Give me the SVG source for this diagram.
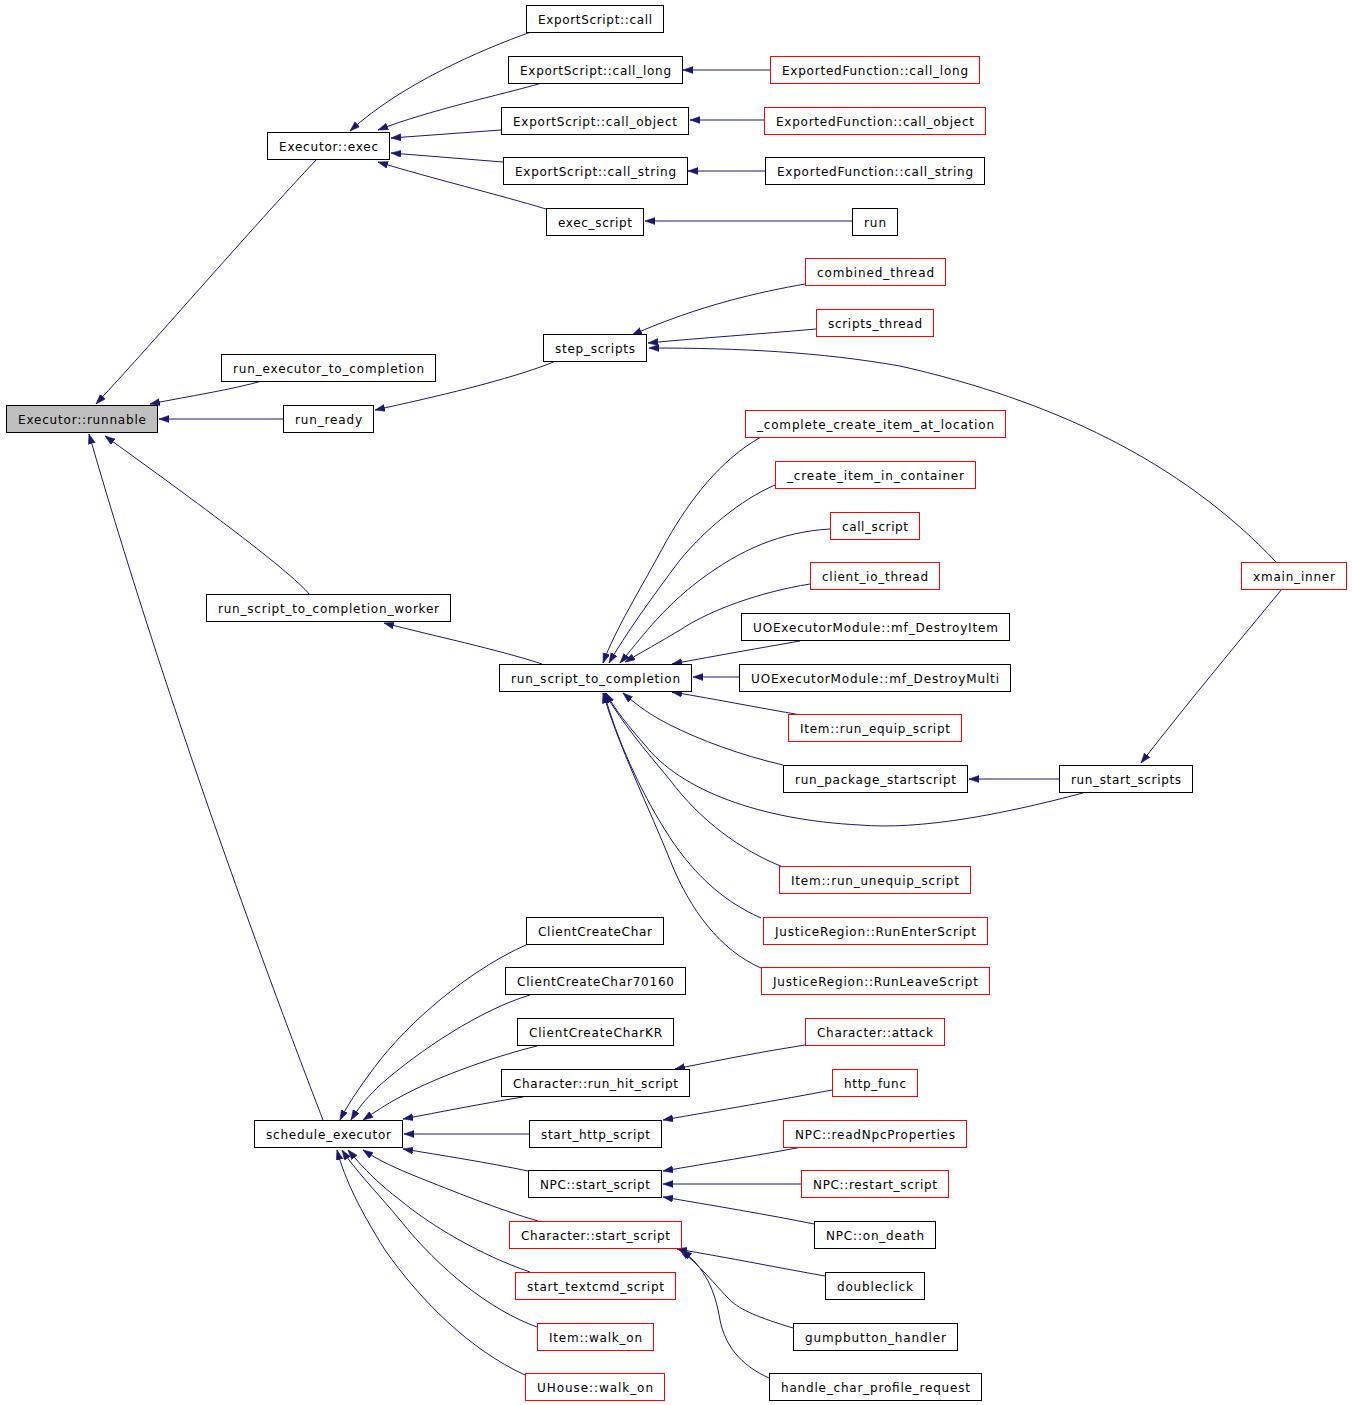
<svg xmlns="http://www.w3.org/2000/svg" width="1352" height="1405" viewBox="0 0 1352 1405">
<defs>
<marker id="ah" markerUnits="userSpaceOnUse" markerWidth="11" markerHeight="8" refX="10" refY="3.5" orient="auto">
<path d="M0,0 L10,3.5 L0,7 z" fill="#191970" stroke="#191970" stroke-width="0.5"/>
</marker>
</defs>
<style>
.n rect{fill:#fff;stroke:#000;stroke-width:1}
.n.r rect{stroke:#ff0000}
.n.g rect{fill:#bfbfbf}
.n text{font-family:"DejaVu Sans",sans-serif;font-size:12px;fill:#000}
#edges path{fill:none;stroke:#191970;stroke-width:1;marker-end:url(#ah)}
</style>
<rect width="1352" height="1405" fill="#fff"/>
<g id="edges">
<path d="M531,32 C480,50 400,85 350,131"/>
<path d="M542,83 C500,95 430,110 378,130"/>
<path d="M501,130 L391,138"/>
<path d="M503,162 L391,153"/>
<path d="M546,209 C500,195 430,178 378,162"/>
<path d="M770,70 L683,70"/>
<path d="M764,120 L690,120"/>
<path d="M765,171 L688,171"/>
<path d="M852,221 L645,221"/>
<path d="M317,159 C250,230 160,335 96,404"/>
<path d="M262,381 C230,390 190,396 150,404"/>
<path d="M283,419 L159,419"/>
<path d="M556,361 C510,380 430,398 375,410"/>
<path d="M805,284 C760,292 700,305 632,335"/>
<path d="M816,329 C760,334 700,338 648,343"/>
<path d="M1277,563 C1180,460 1050,400 900,366 C820,352 740,348 649,348"/>
<path d="M310,595 C290,570 180,490 105,436"/>
<path d="M323,1120 C300,1060 180,750 89,434"/>
<path d="M542,664 C500,650 430,635 384,623"/>
<path d="M761,437 C720,460 690,500 667,540 C640,590 615,630 603,663"/>
<path d="M775,485 C740,500 705,530 680,560 C650,600 625,635 609,663"/>
<path d="M830,529 C780,532 740,550 700,580 C660,610 640,640 620,663"/>
<path d="M810,584 C760,592 710,610 680,630 C660,642 642,652 625,662"/>
<path d="M800,641 C760,648 720,655 672,664"/>
<path d="M739,677 L693,677"/>
<path d="M801,715 C760,708 720,700 672,692"/>
<path d="M783,765 C740,755 700,740 670,725 C652,716 638,706 623,693"/>
<path d="M1083,793 C1000,815 920,830 860,825 C760,820 680,790 645,745 C630,728 615,710 606,693"/>
<path d="M783,867 C740,850 700,820 670,780 C645,750 620,720 605,693"/>
<path d="M761,918 C720,900 690,870 665,830 C640,790 617,740 604,693"/>
<path d="M761,968 C720,950 690,910 670,860 C650,810 618,745 603,693"/>
<path d="M1059,779 L969,779"/>
<path d="M1282,589 C1240,640 1190,700 1141,763"/>
<path d="M526,945 C480,965 420,1010 380,1060 C365,1080 350,1100 340,1120"/>
<path d="M530,995 C480,1010 420,1050 380,1085 C370,1095 360,1105 351,1120"/>
<path d="M537,1046 C500,1055 440,1075 400,1097 C385,1105 375,1112 363,1120"/>
<path d="M523,1097 C480,1104 440,1112 403,1119"/>
<path d="M529,1134 L404,1134"/>
<path d="M528,1171 C490,1163 440,1155 403,1149"/>
<path d="M538,1221 C500,1210 450,1190 420,1178 C395,1168 378,1160 363,1150"/>
<path d="M530,1272 C480,1255 430,1225 400,1200 C380,1185 365,1170 348,1150"/>
<path d="M537,1327 C490,1310 440,1270 400,1220 C375,1190 355,1170 342,1150"/>
<path d="M525,1375 C470,1350 420,1300 385,1250 C360,1210 345,1180 337,1150"/>
<path d="M805,1045 C760,1052 720,1060 675,1069"/>
<path d="M832,1090 C780,1100 720,1110 663,1120"/>
<path d="M802,1147 C760,1155 710,1163 663,1171"/>
<path d="M801,1184 L663,1184"/>
<path d="M814,1224 C770,1215 710,1205 663,1197"/>
<path d="M825,1276 C780,1268 730,1258 677,1249"/>
<path d="M793,1328 C760,1318 740,1310 730,1300 C715,1285 700,1265 680,1250"/>
<path d="M769,1378 C740,1365 725,1345 720,1320 C715,1290 705,1268 682,1250"/>
</g>
<g id="n1" class="n g"><rect x="6.5" y="405.5" width="151" height="27"/><text x="18" y="423.5" textLength="128" lengthAdjust="spacing">Executor::runnable</text></g>
<g id="n2" class="n"><rect x="267.5" y="132.5" width="122" height="27"/><text x="279" y="150.5" textLength="99" lengthAdjust="spacing">Executor::exec</text></g>
<g id="n3" class="n"><rect x="526.5" y="5.5" width="137" height="27"/><text x="538" y="23.5" textLength="114" lengthAdjust="spacing">ExportScript::call</text></g>
<g id="n4" class="n"><rect x="508.5" y="56.5" width="174" height="27"/><text x="520" y="74.5" textLength="151" lengthAdjust="spacing">ExportScript::call_long</text></g>
<g id="n5" class="n"><rect x="501.5" y="107.5" width="187" height="27"/><text x="513" y="125.5" textLength="164" lengthAdjust="spacing">ExportScript::call_object</text></g>
<g id="n6" class="n"><rect x="503.5" y="157.5" width="184" height="27"/><text x="515" y="175.5" textLength="161" lengthAdjust="spacing">ExportScript::call_string</text></g>
<g id="n7" class="n"><rect x="546.5" y="208.5" width="97" height="27"/><text x="558" y="226.5" textLength="74" lengthAdjust="spacing">exec_script</text></g>
<g id="n8" class="n r"><rect x="770.5" y="56.5" width="209" height="27"/><text x="782" y="74.5" textLength="186" lengthAdjust="spacing">ExportedFunction::call_long</text></g>
<g id="n9" class="n r"><rect x="764.5" y="107.5" width="221" height="27"/><text x="776" y="125.5" textLength="198" lengthAdjust="spacing">ExportedFunction::call_object</text></g>
<g id="n10" class="n"><rect x="765.5" y="157.5" width="219" height="27"/><text x="777" y="175.5" textLength="196" lengthAdjust="spacing">ExportedFunction::call_string</text></g>
<g id="n11" class="n"><rect x="852.5" y="208.5" width="45" height="27"/><text x="864" y="226.5" textLength="22" lengthAdjust="spacing">run</text></g>
<g id="n12" class="n"><rect x="221.5" y="354.5" width="214" height="27"/><text x="233" y="372.5" textLength="191" lengthAdjust="spacing">run_executor_to_completion</text></g>
<g id="n13" class="n"><rect x="283.5" y="405.5" width="90" height="27"/><text x="295" y="423.5" textLength="67" lengthAdjust="spacing">run_ready</text></g>
<g id="n14" class="n"><rect x="543.5" y="334.5" width="103" height="27"/><text x="555" y="352.5" textLength="80" lengthAdjust="spacing">step_scripts</text></g>
<g id="n15" class="n r"><rect x="805.5" y="258.5" width="140" height="27"/><text x="817" y="276.5" textLength="117" lengthAdjust="spacing">combined_thread</text></g>
<g id="n16" class="n r"><rect x="816.5" y="309.5" width="117" height="27"/><text x="828" y="327.5" textLength="94" lengthAdjust="spacing">scripts_thread</text></g>
<g id="n17" class="n r"><rect x="1241.5" y="562.5" width="105" height="27"/><text x="1253" y="580.5" textLength="82" lengthAdjust="spacing">xmain_inner</text></g>
<g id="n18" class="n"><rect x="206.5" y="594.5" width="244" height="27"/><text x="218" y="612.5" textLength="221" lengthAdjust="spacing">run_script_to_completion_worker</text></g>
<g id="n19" class="n"><rect x="499.5" y="664.5" width="192" height="27"/><text x="511" y="682.5" textLength="169" lengthAdjust="spacing">run_script_to_completion</text></g>
<g id="n20" class="n r"><rect x="745.5" y="410.5" width="260" height="27"/><text x="757" y="428.5" textLength="237" lengthAdjust="spacing">_complete_create_item_at_location</text></g>
<g id="n21" class="n r"><rect x="775.5" y="461.5" width="200" height="27"/><text x="787" y="479.5" textLength="177" lengthAdjust="spacing">_create_item_in_container</text></g>
<g id="n22" class="n r"><rect x="830.5" y="512.5" width="89" height="27"/><text x="842" y="530.5" textLength="66" lengthAdjust="spacing">call_script</text></g>
<g id="n23" class="n r"><rect x="810.5" y="562.5" width="129" height="27"/><text x="822" y="580.5" textLength="106" lengthAdjust="spacing">client_io_thread</text></g>
<g id="n24" class="n"><rect x="741.5" y="613.5" width="268" height="27"/><text x="753" y="631.5" textLength="245" lengthAdjust="spacing">UOExecutorModule::mf_DestroyItem</text></g>
<g id="n25" class="n"><rect x="739.5" y="664.5" width="271" height="27"/><text x="751" y="682.5" textLength="248" lengthAdjust="spacing">UOExecutorModule::mf_DestroyMulti</text></g>
<g id="n26" class="n r"><rect x="788.5" y="714.5" width="173" height="27"/><text x="800" y="732.5" textLength="150" lengthAdjust="spacing">Item::run_equip_script</text></g>
<g id="n27" class="n"><rect x="783.5" y="765.5" width="184" height="27"/><text x="795" y="783.5" textLength="161" lengthAdjust="spacing">run_package_startscript</text></g>
<g id="n28" class="n"><rect x="1059.5" y="765.5" width="133" height="27"/><text x="1071" y="783.5" textLength="110" lengthAdjust="spacing">run_start_scripts</text></g>
<g id="n29" class="n r"><rect x="779.5" y="866.5" width="191" height="27"/><text x="791" y="884.5" textLength="168" lengthAdjust="spacing">Item::run_unequip_script</text></g>
<g id="n30" class="n r"><rect x="763.5" y="917.5" width="224" height="27"/><text x="775" y="935.5" textLength="201" lengthAdjust="spacing">JusticeRegion::RunEnterScript</text></g>
<g id="n31" class="n r"><rect x="761.5" y="967.5" width="228" height="27"/><text x="773" y="985.5" textLength="205" lengthAdjust="spacing">JusticeRegion::RunLeaveScript</text></g>
<g id="n32" class="n"><rect x="526.5" y="917.5" width="137" height="27"/><text x="538" y="935.5" textLength="114" lengthAdjust="spacing">ClientCreateChar</text></g>
<g id="n33" class="n"><rect x="505.5" y="967.5" width="180" height="27"/><text x="517" y="985.5" textLength="157" lengthAdjust="spacing">ClientCreateChar70160</text></g>
<g id="n34" class="n"><rect x="517.5" y="1018.5" width="156" height="27"/><text x="529" y="1036.5" textLength="133" lengthAdjust="spacing">ClientCreateCharKR</text></g>
<g id="n35" class="n"><rect x="501.5" y="1069.5" width="188" height="27"/><text x="513" y="1087.5" textLength="165" lengthAdjust="spacing">Character::run_hit_script</text></g>
<g id="n36" class="n"><rect x="254.5" y="1120.5" width="148" height="27"/><text x="266" y="1138.5" textLength="125" lengthAdjust="spacing">schedule_executor</text></g>
<g id="n37" class="n"><rect x="529.5" y="1120.5" width="132" height="27"/><text x="541" y="1138.5" textLength="109" lengthAdjust="spacing">start_http_script</text></g>
<g id="n38" class="n"><rect x="528.5" y="1170.5" width="133" height="27"/><text x="540" y="1188.5" textLength="110" lengthAdjust="spacing">NPC::start_script</text></g>
<g id="n39" class="n r"><rect x="509.5" y="1221.5" width="172" height="27"/><text x="521" y="1239.5" textLength="149" lengthAdjust="spacing">Character::start_script</text></g>
<g id="n40" class="n r"><rect x="515.5" y="1272.5" width="160" height="27"/><text x="527" y="1290.5" textLength="137" lengthAdjust="spacing">start_textcmd_script</text></g>
<g id="n41" class="n r"><rect x="537.5" y="1323.5" width="116" height="27"/><text x="549" y="1341.5" textLength="93" lengthAdjust="spacing">Item::walk_on</text></g>
<g id="n42" class="n r"><rect x="525.5" y="1373.5" width="139" height="27"/><text x="537" y="1391.5" textLength="116" lengthAdjust="spacing">UHouse::walk_on</text></g>
<g id="n43" class="n r"><rect x="805.5" y="1018.5" width="139" height="27"/><text x="817" y="1036.5" textLength="116" lengthAdjust="spacing">Character::attack</text></g>
<g id="n44" class="n r"><rect x="832.5" y="1069.5" width="85" height="27"/><text x="844" y="1087.5" textLength="62" lengthAdjust="spacing">http_func</text></g>
<g id="n45" class="n r"><rect x="783.5" y="1120.5" width="183" height="27"/><text x="795" y="1138.5" textLength="160" lengthAdjust="spacing">NPC::readNpcProperties</text></g>
<g id="n46" class="n r"><rect x="801.5" y="1170.5" width="147" height="27"/><text x="813" y="1188.5" textLength="124" lengthAdjust="spacing">NPC::restart_script</text></g>
<g id="n47" class="n"><rect x="814.5" y="1221.5" width="121" height="27"/><text x="826" y="1239.5" textLength="98" lengthAdjust="spacing">NPC::on_death</text></g>
<g id="n48" class="n"><rect x="825.5" y="1272.5" width="99" height="27"/><text x="837" y="1290.5" textLength="76" lengthAdjust="spacing">doubleclick</text></g>
<g id="n49" class="n"><rect x="793.5" y="1323.5" width="164" height="27"/><text x="805" y="1341.5" textLength="141" lengthAdjust="spacing">gumpbutton_handler</text></g>
<g id="n50" class="n"><rect x="769.5" y="1373.5" width="212" height="27"/><text x="781" y="1391.5" textLength="189" lengthAdjust="spacing">handle_char_profile_request</text></g>
</svg>
